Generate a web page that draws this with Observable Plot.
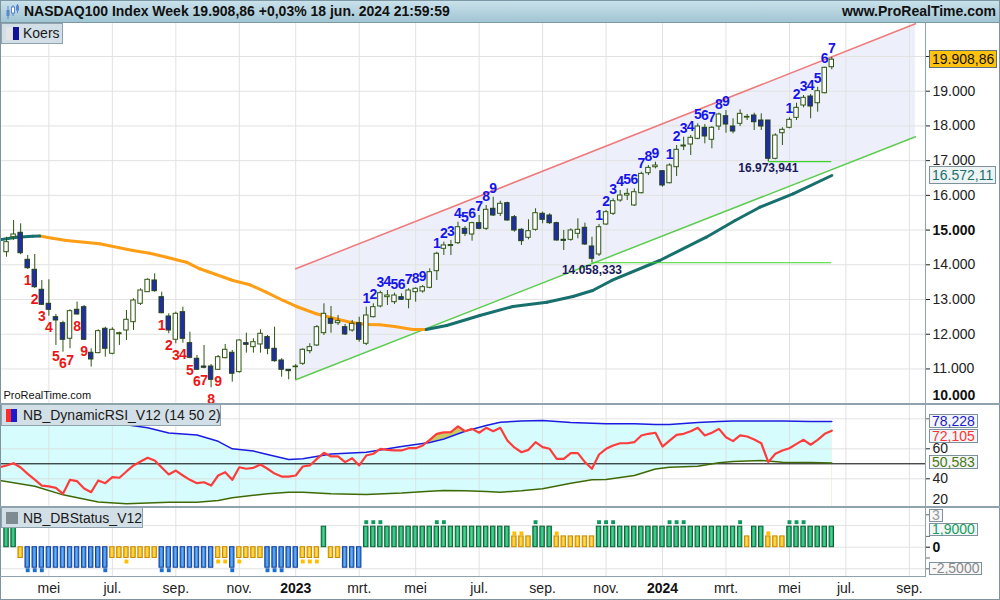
<!DOCTYPE html>
<html lang="nl">
<head>
<meta charset="utf-8">
<title>NASDAQ100 Index Week</title>
<script src="https://cdn.jsdelivr.net/npm/d3@7"></script>
<script src="https://cdn.jsdelivr.net/npm/@observablehq/plot@0.6"></script>
<style>
  html,body{margin:0;padding:0;background:#fff;}
  #wrap{position:relative;width:1000px;height:600px;overflow:hidden;background:#fff;font-family:"Liberation Sans",Arial,Helvetica,sans-serif;color:#111;}
  .panel{position:absolute;left:0;}
  .panel svg{display:block;}
  .ov{position:absolute;z-index:5;box-sizing:border-box;}
  .legend{position:absolute;z-index:6;box-sizing:border-box;background:#d3dfe6;border:1px solid #8ea3ae;font-size:14px;line-height:18px;color:#1a1a1a;white-space:nowrap;}
  .vbox{position:absolute;z-index:6;box-sizing:border-box;left:929px;font-size:14px;padding:0 2px;border:1px solid #7d929d;white-space:nowrap;}
</style>
</head>
<body>
<div id="wrap"></div>
<script>
// ================= DATA =================
const titleName = "NASDAQ100 Index Week";
const titleChange = "+0,03%";
const titleStamp = "18 jun. 2024 21:59:59";
const firstWeek = "2022-03-21";           // first weekly bar (Monday)

const open = [14363,14795,14922,14144,13856,13280,12877,12491,12318,11869,
  12704,12779,11466,11455,12157,11437,12000,12108,12347,12877,
  13211,13548,13067,12511,11840,12635,11742,11293,11070,11070,
  10976,11310,11466,10908,11742,11627,11705,11917,11581,11244,
  10976,11050,11149,11513,11676,12030,12445,12318,12203,12108,
  12318,11725,12491,12800,13067,12923,13067,12992,13211,13232,
  13338,13816,14461,14540,14622,15035,14873,15199,15037,15613,
  15469,15775,15371,15008,14778,15008,15469,15420,15199,14720,
  14720,14893,15066,14527,14297,15161,15469,15851,15995,15709,
  16062,16638,16811,16696,16350,16811,17407,17465,17629,17946,
  17600,17983,18280,17983,18061,18240,18300,18156,18156,17053,
  17790,17946,18233,18588,18847,18654,18942,19691];
const high = [14795,15276,15181,14268,14297,13548,13568,12569,12376,12704,
  12923,12828,11581,12128,12203,12186,12059,12684,13021,13309,
  13597,13741,13211,12589,12635,12779,12059,11388,11676,11129,
  11388,11705,11532,11840,12030,11869,12128,11965,12203,11293,
  10976,11129,11581,11725,12251,12877,12800,12540,12281,12396,
  12491,12779,12877,13240,13260,13183,13165,13309,13338,13404,
  13884,14363,14651,14700,15227,15103,15227,15420,15708,15947,
  15832,15803,15420,15037,15296,15613,15516,15469,15227,14988,
  15037,15325,15199,14795,15161,15564,15901,16139,16187,16187,
  16667,16859,16955,16716,16907,17436,17675,17724,18061,18041,
  17983,18367,18444,18205,18464,18329,18367,18348,18156,17773,
  17946,18233,18654,18876,18905,19115,19691,19979];
const low = [14219,14700,14288,13865,13318,12828,12520,11676,11483,11581,
  12549,11820,11051,11437,11339,11408,11676,11820,12108,12828,
  13211,13211,12589,12013,11725,11742,11293,10957,11005,10458,
  10957,11293,10619,10879,11455,11455,11455,11408,11195,10763,
  10688,10688,11100,11437,11648,11965,12030,12251,11965,12059,
  11771,11676,12472,12761,12828,12857,12972,12733,12923,13183,
  13309,13548,14268,14268,14585,14815,14680,15008,14988,15391,
  15391,15256,14939,14556,14720,14968,15181,15161,14680,14412,
  14680,14749,14556,14058.333,14239,15132,15420,15803,15851,15680,
  16043,16571,16763,16235,16331,16543,17292,17148,17600,17485,
  17341,17868,17791,17773,17983,18156,17868,17868,16973.941,17023,
  17436,17917,18156,18522,18205,18395,18925,19616];
const close = [14651,14873,14334,13902,13355,12848,12704,12396,11840,12664,
  12569,11840,11273,12088,11581,12128,12030,12416,12972,13260,
  13568,13240,12606,12108,12589,11869,11322,10976,11034,10688,
  11339,11552,10861,11820,11696,11771,12013,11581,11224,10976,
  10937,11070,11552,11628,12203,12589,12301,12376,11993,12301,
  11840,12540,12779,13183,13115,13115,12992,13260,13309,13355,
  13787,14317,14557,14570,15083,14893,15199,15037,15584,15420,
  15757,15276,14988,14680,14968,15486,15296,15199,14700,14690,
  14988,15008,14585,14173,15083,15515,15832,15995,16043,16091,
  16619,16792,16859,16284,16860,17312,17436,17658,17983,17696,
  17946,18329,18041,17839,18348,18260,18107,17983,17053,17724,
  17888,18176,18522,18810,18559,19000,19674,19908.86];

// sequential count labels (blue above highs, red below lows)
const upSetupStart = [51, 61, 84, 94, 111];
const upSetupLength = [9, 9, 9, 9, 7];
const downSetupStart = [3, 22];
const downSetupLength = [9, 9];

// moving average, read at bar positions (bar number, value)
const maIndex = [-1, 1.4, 3.7, 4.7, 6.5, 8.5, 13.2, 17.9, 20.3, 22.7, 24.5, 25.5, 27.4, 29.7, 32.1, 34.5, 36.8,
  39.2, 41.1, 43.9, 45.8, 48.7, 50.9, 52.9, 55, 57.6, 59.5, 62.4, 67.1, 71.8, 76.6, 80.3, 83.1, 85.8, 92.6,
  99.2, 103.3, 106.8, 111.5, 117];
const maValue = [14720, 14795, 14824, 14830, 14765, 14700, 14605, 14412, 14334, 14219, 14124, 14075, 13885, 13721, 13548, 13424, 13211,
  12972, 12799, 12589, 12491, 12347, 12281, 12272, 12223, 12137, 12137, 12252, 12540, 12799, 12923, 13087, 13260, 13548, 14124,
  14795, 15276, 15659, 16045, 16572.11];

// regression channel
const channelDates = ["2023-01-02", "2024-09-08"];
const channelUpper = [13885, 20941];
const channelLower = [10688, 17687];

// support levels (start bar, level)
const supportIndex = [83, 108];
const supportValue = [14058.333, 16973.941];

// NB_DynamicRSI_V12: RSI per bar starting one week before the first bar
const rsiValues = [47.7, 48.9, 50.4, 47.5, 43.3, 39.5, 35.5, 34.9, 34.0, 30.0,
  39.3, 38.4, 33.5, 31.1, 38.9, 37.1, 41.1, 40.7, 44.9, 48.9,
  51.5, 54.0, 52.2, 47.5, 42.9, 45.5, 42.2, 39.3, 37.1, 37.7,
  35.5, 42.2, 44.4, 39.3, 47.7, 46.7, 47.3, 49.5, 46.7, 43.5,
  41.5, 41.5, 42.2, 48.2, 48.9, 53.3, 57.3, 54.9, 54.9, 51.1,
  53.7, 48.9, 55.5, 56.7, 60.0, 59.3, 58.9, 58.9, 60.4, 60.4,
  62.2, 66.0, 70.0, 70.9, 71.1, 74.9, 71.7, 73.3, 70.7, 74.0,
  71.7, 74.0, 65.5, 60.9, 57.7, 59.3, 64.4, 61.1, 60.0, 53.3,
  53.3, 57.1, 57.1, 51.1, 46.7, 56.2, 60.0, 62.2, 63.7, 63.7,
  64.4, 68.9, 70.0, 70.7, 61.5, 65.5, 69.3, 70.0, 71.7, 74.0,
  68.9, 70.7, 73.3, 67.7, 65.1, 68.9, 68.2, 66.2, 63.7, 51.1,
  56.7, 58.9, 60.4, 63.3, 66.0, 62.7, 66.0, 70.0, 72.105];
const bandIndex = [-1, 4, 8, 13, 17, 20, 23, 27, 30, 32, 35, 37, 40, 42, 46, 51, 56, 60, 62, 65, 68, 70, 73, 76,
  80, 83, 85, 89, 92, 94, 98, 101, 103, 107, 110, 114, 117];
const bandUpper = [83, 82, 80, 78, 76, 74, 70.5, 69.2, 65, 60, 58.5, 56.2, 52.9, 53.4, 56.5, 57.7, 61.5, 64.2, 66.5, 71.7, 75.5, 77.7, 78.6, 78.9,
  77.6, 77.0, 76.7, 76.7, 76.2, 76.2, 77.6, 78.2, 78.6, 78.6, 78.6, 78.2, 78.228];
const bandLower = [38.9, 35.0, 29.3, 24.5, 23.3, 23.8, 24.4, 24.4, 25.5, 27.3, 29, 30, 31.1, 31.0, 30.0, 29.6, 30.5, 31.7, 32.2, 32, 31.5, 31.1, 32.0, 33.3,
  37.0, 39.3, 39.5, 42.2, 46.5, 47.7, 48.4, 50.7, 51.5, 52.2, 51.1, 50.8, 50.583];

// NB_DBStatus_V12: 2 = bullish (green), -2 = bearish (blue), 1 / -1 = neutral (yellow)
const dbStatus = [2, 2, -1, -2, -2, -2, -2, -2, -2, -2,
  -2, -2, -2, -2, -2, -1, -1, -1, -1, -1,
  -1, -1, -2, -2, -2, -2, -2, -2, -2, -2,
  -1, -1, -2, -1, -1, -1, -1, -2, -2, -2,
  -2, -2, -1, -1, -1, 2, -1, -1, -2, -2,
  -2, 2, 2, 2, 2, 2, 2, 2, 2, 2,
  2, 2, 2, 2, 2, 2, 2, 2, 2, 2,
  2, 2, 1, 1, 1, 2, 2, 2, 1, 1,
  1, 1, 1, 1, 2, 2, 2, 2, 2, 2,
  2, 2, 2, 2, 2, 2, 2, 2, 2, 2,
  2, 2, 2, 2, 2, 1, 2, 2, 1, 1,
  1, 2, 2, 2, 2, 2, 2, 2];
const dbLevel = {"2": 1.9, "1": 1, "-1": -1, "-2": -1.9};
const dbSignal = [3, 4, 5, 14, 17, 22, 23, 30, 31, 32, 33, 37, 38, 39, 42, 43, 44, 51, 52, 53, 61, 62,
  72, 73, 75, 78, 84, 85, 86, 94, 95, 96, 104, 108, 111, 112, 113];
const dbAxisTop = 3, dbAxisBottom = -2.5;

// axes
const priceTicks = [11000, 12000, 13000, 14000, 16000, 17000, 18000, 19000, 20000];
const priceTicksBold = [10000, 15000];
const rsiTicks = [20, 40, 60, 80];
const rsiLabelled = [40, 60];
const monthTicks = ["2022-05-02", "2022-07-04", "2022-09-05", "2022-11-07", "2023-01-02", "2023-03-06", "2023-05-01",
  "2023-07-03", "2023-09-04", "2023-11-06", "2024-01-01", "2024-03-04", "2024-05-06", "2024-07-01", "2024-09-02"];
const monthLabels = ["mei", "jul.", "sep.", "nov.", "2023", "mrt.", "mei", "jul.", "sep.", "nov.", "2024", "mrt.", "mei", "jul.", "sep."];
const xStart = "2022-03-15", xEnd = "2024-09-18";

// ================= BUILD =================
const FONT = "'Liberation Sans', Arial, Helvetica, sans-serif";
const loc = d3.formatLocale({decimal: ",", thousands: ".", grouping: [3], currency: ["€", ""], minus: "-"});
const fInt = loc.format(",d"), f2 = loc.format(",.2f"), f3 = loc.format(",.3f"), f4 = loc.format(".4f");
const DAY = 864e5;
const utc = s => new Date(s + "T00:00:00Z");
const t0 = +utc(firstWeek);
const weekDate = i => new Date(t0 + i * 7 * DAY);
const xDomain = [utc(xStart), utc(xEnd)];
const monthDates = monthTicks.map(utc);
const yearSet = new Set(monthLabels.map((l, k) => /^\d{4}$/.test(l) ? +monthDates[k] : null).filter(v => v));
const labelOf = new Map(monthDates.map((d, k) => [+d, monthLabels[k]]));
const last = open.length - 1;
const W = 1000, MR = 75;
const baseStyle = {fontFamily: FONT, fontSize: "14px", background: "transparent", color: "#222"};

const candles = open.map((o, i) => ({i, date: weekDate(i), o, h: high[i], l: low[i], c: close[i]}));
const halfBody = 2.2 * DAY;
const bx1 = d => new Date(+d.date - halfBody), bx2 = d => new Date(+d.date + halfBody);
const upLabels = upSetupStart.flatMap((s, k) => d3.range(upSetupLength[k]).map(j => ({i: s + j, n: j + 1})));
const downLabels = downSetupStart.flatMap((s, k) => d3.range(downSetupLength[k]).map(j => ({i: s + j, n: j + 1})));
const maPts = maIndex.map((i, k) => ({date: weekDate(i), v: maValue[k]}));
const maSegs = d3.pairs(maPts).map(([a, b]) => ({a, b, up: b.v > a.v}));
const channel = channelDates.map((d, k) => ({date: utc(d), top: channelUpper[k], bottom: channelLower[k]}));
const supports = supportIndex.map((s, k) => ({x1: weekDate(s), x2: weekDate(last), v: supportValue[k], label: f3(supportValue[k])}));

const linkOpts = {x1: s => s.a.date, y1: s => s.a.v, x2: s => s.b.date, y2: s => s.b.v, strokeWidth: 3, strokeLinecap: "round"};
const mainPlot = Plot.plot({
  width: W, height: 382, marginLeft: 0, marginRight: MR, marginTop: 0, marginBottom: 0,
  style: baseStyle,
  x: {type: "utc", domain: xDomain, axis: null},
  y: {domain: [9976, 20979]},
  marks: [
    Plot.areaY(channel, {x: "date", y1: "bottom", y2: "top", fill: "#edf0fb"}),
    Plot.ruleY(priceTicks.concat([15000]), {stroke: "#e2e2e2"}),
    Plot.ruleX(monthDates, {stroke: "#e2e2e2"}),
    Plot.line(channel, {x: "date", y: "top", stroke: "#ee7a7a"}),
    Plot.line(channel, {x: "date", y: "bottom", stroke: "#5ccb52"}),
    Plot.link(maSegs.filter(s => !s.up), {...linkOpts, stroke: "#ff9d14"}),
    Plot.link(maSegs.filter(s => s.up), {...linkOpts, stroke: "#17706e"}),
    Plot.ruleX(candles, {x: "date", y1: "l", y2: "h", stroke: "#2d5510"}),
    Plot.rect(candles.filter(d => d.c >= d.o), {x1: bx1, x2: bx2, y1: "o", y2: "c", fill: "#ffffff", stroke: "#2d5510"}),
    Plot.rect(candles.filter(d => d.c < d.o), {x1: bx1, x2: bx2, y1: "o", y2: "c", fill: "#1f2ea6", stroke: "#22401a"}),
    Plot.ruleY(supports, {x1: "x1", x2: "x2", y: "v", stroke: "#3fd22e", strokeWidth: 1.2}),
    Plot.text(supports, {x: "x1", y: "v", dy: 7, text: "label", fill: "#1a1a5a", fontWeight: "bold", fontSize: 12}),
    Plot.text(upLabels, {x: d => weekDate(d.i), y: d => high[d.i], dy: -9, text: d => String(d.n), fill: "#1515ec", fontWeight: "bold", fontSize: 14}),
    Plot.text(downLabels, {x: d => weekDate(d.i), y: d => low[d.i], dy: 11.5, text: d => String(d.n), fill: "#ec1515", fontWeight: "bold", fontSize: 14}),
    Plot.text(["ProRealTime.com"], {frameAnchor: "bottom-left", dx: 3, dy: -6, textAnchor: "start", fontSize: 11, fill: "#111"}),
    Plot.axisY(priceTicks, {anchor: "right", tickSize: 4, tickPadding: 3, tickFormat: fInt, fontSize: 14, label: null, color: "#222"}),
    Plot.axisY([15000], {anchor: "right", tickSize: 4, tickPadding: 3, tickFormat: fInt, fontSize: 14, fontWeight: "bold", label: null, color: "#111"}),
    Plot.text([10000], {y: d => d, frameAnchor: "right", dx: 7, dy: -8, textAnchor: "start", text: d => fInt(d), fontWeight: "bold", fontSize: 14, fill: "#111"})
  ]
});

const rsiData = rsiValues.map((v, k) => ({date: weekDate(k - 1), v}));
const bands = bandIndex.map((i, k) => ({date: weekDate(i), upper: bandUpper[k], lower: bandLower[k]}));
const rsiDomain = [20.87, 89.53];
const rsiPlot = Plot.plot({
  width: W, height: 103, marginLeft: 0, marginRight: MR, marginTop: 0, marginBottom: 0,
  style: baseStyle,
  x: {type: "utc", domain: xDomain, axis: null},
  y: {domain: rsiDomain},
  marks: [
    Plot.areaY(rsiData, {x: "date", y1: () => rsiDomain[0], y2: "v", fill: "#caca62"}),
    Plot.areaY(bands, {x: "date", y1: () => rsiDomain[0], y2: "upper", fill: "#ffffff"}),
    Plot.areaY(bands, {x: "date", y1: "lower", y2: "upper", fill: "#d6fcfd"}),
    Plot.ruleX(monthDates, {stroke: "#dcdcdc", strokeOpacity: 0.8}),
    Plot.ruleY(rsiTicks, {stroke: "#dcdcdc", strokeOpacity: 0.8}),
    Plot.ruleY([50], {stroke: "#000"}),
    Plot.line(bands, {x: "date", y: "lower", stroke: "#3d6a06"}),
    Plot.line(bands, {x: "date", y: "upper", stroke: "#1c1ce0"}),
    Plot.line(rsiData, {x: "date", y: "v", stroke: "#ff3c3c", strokeWidth: 2.2}),
    Plot.axisY([80], {anchor: "right", tickSize: 4, tickFormat: () => "", label: null, color: "#666"}),
    Plot.axisY(rsiLabelled, {anchor: "right", tickSize: 4, tickPadding: 3, fontSize: 14, label: null, color: "#222"}),
    Plot.text(rsiTicks.slice(0, 1), {y: d => d, frameAnchor: "right", dx: 7, dy: -9, textAnchor: "start", text: d => String(d), fontSize: 14, fill: "#222"})
  ]
});

// gradient definitions for the status histogram
const gradDefs = () => {
  const defs = d3.create("svg:defs");
  for (const [id, edge, mid] of [["gGreen", "#139a58", "#48d696"], ["gBlue", "#1f6fd0", "#64b0f4"], ["gYellow", "#f2ae00", "#ffde5a"]]) {
    const g = defs.append("linearGradient").attr("id", id).attr("x1", 0).attr("x2", 1).attr("y1", 0).attr("y2", 0);
    g.append("stop").attr("offset", "0%").attr("stop-color", edge);
    g.append("stop").attr("offset", "50%").attr("stop-color", mid);
    g.append("stop").attr("offset", "100%").attr("stop-color", edge);
  }
  return defs.node();
};

const signalSet = new Set(dbSignal);
const dbData = dbStatus.map((s, i) => ({date: weekDate(i), s, v: dbLevel[String(s)], sig: signalSet.has(i)}));
const dbDomain = [-2.713, 3.676];
const barOpts = {x1: bx1, x2: bx2, y1: () => 0, y2: "v"};
const dotOpts = {x: "date", y: "v", symbol: "square", r: 2.2};
const dbPlot = Plot.plot({
  width: W, height: 93, marginLeft: 0, marginRight: MR, marginTop: 0, marginBottom: 24,
  style: baseStyle,
  x: {type: "utc", domain: xDomain},
  y: {domain: dbDomain},
  marks: [
    gradDefs,
    Plot.ruleX(monthDates, {stroke: "#e2e2e2"}),
    Plot.ruleY([-2, 0, 2], {stroke: "#e2e2e2"}),
    Plot.rect(dbData.filter(d => d.s === 2), {...barOpts, fill: "url(#gGreen)", stroke: "#0c6034"}),
    Plot.rect(dbData.filter(d => d.s === -2), {...barOpts, fill: "url(#gBlue)", stroke: "#163f9c"}),
    Plot.rect(dbData.filter(d => Math.abs(d.s) === 1), {...barOpts, fill: "url(#gYellow)", stroke: "#c98a00"}),
    Plot.dot(dbData.filter(d => d.sig && d.s === 2), {...dotOpts, dy: -4.5, fill: "#0e9a5e"}),
    Plot.dot(dbData.filter(d => d.sig && d.s === 1), {...dotOpts, dy: -3, fill: "#ffbf00"}),
    Plot.dot(dbData.filter(d => d.sig && d.s === -1), {...dotOpts, dy: 3.5, fill: "#ffbf00"}),
    Plot.dot(dbData.filter(d => d.sig && d.s === -2), {...dotOpts, dy: 2.5, fill: "#1b6fd0"}),
    Plot.axisY([3, 1, -1, -2], {anchor: "right", tickSize: 4, tickFormat: () => "", label: null, color: "#666"}),
    Plot.axisY([0], {anchor: "right", tickSize: 4, tickPadding: 3, fontSize: 14, fontWeight: "bold", label: null, color: "#111"}),
    Plot.axisX(monthDates.filter(d => !yearSet.has(+d)), {anchor: "bottom", tickSize: 0, tickPadding: 7, tickFormat: d => labelOf.get(+d), fontSize: 14, label: null, color: "#222"}),
    Plot.axisX(monthDates.filter(d => yearSet.has(+d)), {anchor: "bottom", tickSize: 0, tickPadding: 7, tickFormat: d => labelOf.get(+d), fontSize: 14, fontWeight: "bold", label: null, color: "#111"})
  ]
});

// ================= PAGE =================
const wrap = document.getElementById("wrap");
function el(tag, cls, css, html) {
  const e = document.createElement(tag);
  if (cls) e.className = cls;
  if (css) e.style.cssText = css;
  if (html != null) e.innerHTML = html;
  wrap.appendChild(e);
  return e;
}
function panel(plot, top) {
  const d = el("div", "panel", `top:${top}px;`);
  d.appendChild(plot);
  return d;
}
panel(mainPlot, 22);
panel(rsiPlot, 404);
panel(dbPlot, 507);

// header
el("div", "ov", "left:0;top:0;width:1000px;height:23px;background:linear-gradient(#c9e1eb,#a1c5d3);border:1px solid #7d98a5;",
  `<svg width="14" height="16" style="position:absolute;left:4px;top:3px">
     <line x1="3" y1="2" x2="3" y2="15" stroke="#5b86c9"/><rect x="1.5" y="6" width="3" height="6" fill="#5b86c9"/>
     <line x1="8" y1="1" x2="8" y2="12" stroke="#5b86c9"/><rect x="6.5" y="3" width="3" height="6" fill="#fff" stroke="#5b86c9"/>
     <line x1="12.5" y1="0" x2="12.5" y2="9" stroke="#5b86c9"/><rect x="11" y="1.5" width="3" height="5" fill="#5b86c9"/>
   </svg>
   <div style="position:absolute;left:23px;top:2px;font-weight:bold;font-size:14px;line-height:17px;color:#111;">${titleName} ${f2(close[last])} ${titleChange} ${titleStamp}</div>
   <div style="position:absolute;right:3px;top:2px;font-weight:bold;font-size:14px;line-height:17px;color:#111;">www.ProRealTime.com</div>`);

// frame and separators
el("div", "ov", "left:0;top:0;width:1000px;height:600px;border:1px solid #7f939e;border-top:none;");
el("div", "ov", "left:0;top:403px;width:1000px;height:2px;background:#8fa3ae;");
el("div", "ov", "left:0;top:506px;width:1000px;height:2px;background:#8fa3ae;");
el("div", "ov", "left:0;top:576px;width:926px;height:1px;background:#8fa3ae;");
el("div", "ov", "left:925px;top:22px;width:1px;height:555px;background:#8fa3ae;");

// legends
el("div", "legend", "left:1px;top:23px;width:62px;height:21px;",
  `<span style="position:absolute;left:4px;top:3px;width:6px;height:13px;background:#e4e4e4;"></span>
   <span style="position:absolute;left:11px;top:3px;width:6px;height:13px;background:#11119a;"></span>
   <span style="position:absolute;left:21px;top:0;">Koers</span>`);
el("div", "legend", "left:1px;top:404px;width:220px;height:22px;",
  `<span style="position:absolute;left:4px;top:4px;width:5px;height:13px;background:#ff2a2a;"></span>
   <span style="position:absolute;left:9px;top:4px;width:6px;height:13px;background:#1a1ad0;"></span>
   <span style="position:absolute;left:21px;top:1px;">NB_DynamicRSI_V12 (14 50 2)</span>`);
el("div", "legend", "left:1px;top:507px;width:142px;height:21px;",
  `<span style="position:absolute;left:4px;top:4px;width:12px;height:12px;background:#7e8b93;"></span>
   <span style="position:absolute;left:21px;top:1px;">NB_DBStatus_V12</span>`);

// value boxes on the right axis
function boxes(list, offset, scale, h, minTop, maxBottom) {
  const items = list.map(b => ({...b, top: offset + scale.apply(b.v) - h / 2})).sort((a, b) => a.top - b.top);
  let prev = minTop;
  for (const b of items) {
    b.top = Math.max(b.top, prev);
    if (b.top + h > maxBottom) b.top = maxBottom - h;
    prev = b.top + h + 1;
    el("div", "vbox", `top:${b.top}px;height:${h}px;line-height:${h - 2}px;background:${b.bg};color:${b.color};border-color:${b.border || "#7d929d"};`, b.text);
  }
}
boxes([
  {v: close[last], text: f2(close[last]), bg: "#ffc20e", color: "#111", border: "#5f707b"},
  {v: maValue[maValue.length - 1], text: f2(maValue[maValue.length - 1]), bg: "#eef3f3", color: "#1b7070"}
], 22, mainPlot.scale("y"), 18, 23, 402);
boxes([
  {v: bandUpper[bandUpper.length - 1], text: f3(bandUpper[bandUpper.length - 1]), bg: "#f3f5f7", color: "#1c1cd0"},
  {v: rsiValues[rsiValues.length - 1], text: f3(rsiValues[rsiValues.length - 1]), bg: "#f3f5f7", color: "#ff3434"},
  {v: bandLower[bandLower.length - 1], text: f3(bandLower[bandLower.length - 1]), bg: "#f3f5f7", color: "#4b7a14"}
], 404, rsiPlot.scale("y"), 14, 406, 506);
boxes([
  {v: dbAxisTop, text: String(dbAxisTop), bg: "#f7f7f7", color: "#999"},
  {v: dbLevel[String(dbStatus[last])], text: f4(dbLevel[String(dbStatus[last])]), bg: "#f3f5f7", color: "#13a062"},
  {v: dbAxisBottom, text: f4(dbAxisBottom), bg: "#f7f7f7", color: "#8a8a8a"}
], 507, dbPlot.scale("y"), 13, 509, 575);
</script>
</body>
</html>
